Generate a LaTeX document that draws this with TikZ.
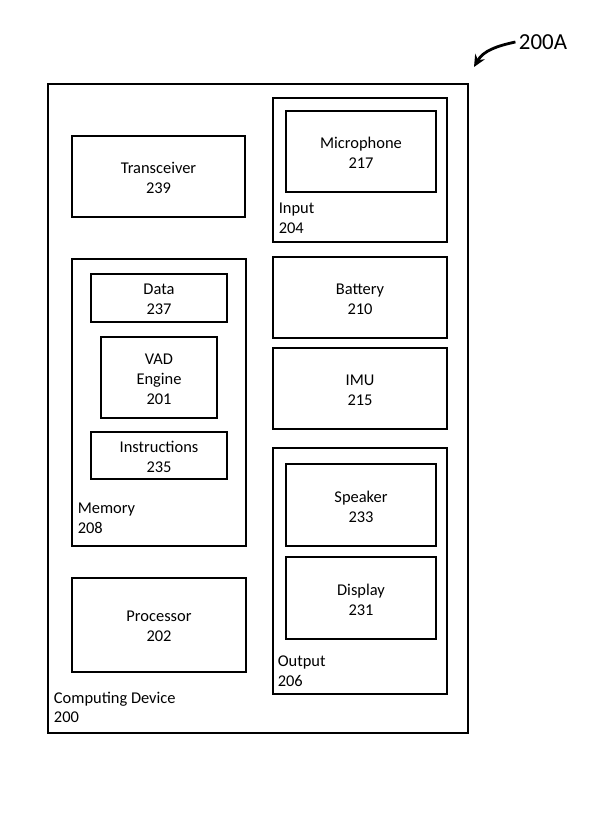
\documentclass[tikz,border=0pt]{standalone}
\usepackage{fontspec}
\setmainfont{Carlito}
\usepackage{tikz}
\usetikzlibrary{arrows.meta,positioning,fit}

\begin{document}
\begin{tikzpicture}[
    x=1bp, y=-1bp,
    every node/.style={font=\fontsize{16.5}{20}\selectfont},
    unit/.style={
      rectangle, draw, line width=2.8bp, inner sep=0pt
    },
    shell/.style={unit, line width=2.5bp},
    body/.style={inner sep=0pt, align=center, yshift=-1.5bp},
    tag/.style={inner sep=0pt, align=left, anchor=south west},
    arr/.style={-{Stealth[length=12bp, width=11bp]}, line width=2.8bp}
  ]
    \useasboundingbox (0,0) rectangle (589,832);

    % ── Outer device ──
    \node[shell, fit={(48,84) (468,733)}] (device) {};
    \node[tag, above right=11bp and 7bp of device.south west] (devicetag) {Computing Device\\200};

    % ── Left column ──
    \node[unit, fit={(72,136) (245,217)}, label={[body]center:{Transceiver\\239}}] (transceiver) {};
    \node[unit, fit={(72,259) (246,546)}] (memory) {};
    \node[tag, above right=14bp and 7bp of memory.south west] (memorytag) {Memory\\208};
    \node[unit, fit={(91,274) (227,322)}, label={[body]center:{Data\\237}}] (data) {};
    \node[unit, fit={(101,337) (217,418)}, label={[body]center:{VAD\\Engine\\201}}] (vad) {};
    \node[unit, fit={(91,432) (227,479)}, label={[body]center:{Instructions\\235}}] (instr) {};
    \node[unit, fit={(72,578) (246,672)}, label={[body]center:{Processor\\202}}] (processor) {};

    % ── Right column ──
    \node[unit, fit={(273,98) (447,242)}] (input) {};
    \node[tag, above right=10bp and 7bp of input.south west] (inputtag) {Input\\204};
    \node[unit, fit={(286,111) (436,192)}, label={[body]center:{Microphone\\217}}] (mic) {};
    \node[unit, fit={(273,257) (447,338)}, label={[body]center:{Battery\\210}}] (battery) {};
    \node[unit, fit={(273,348) (447,429)}, label={[body]center:{IMU\\215}}] (imu) {};
    \node[unit, fit={(273,448) (447,694)}] (output) {};
    \node[tag, above right=9bp and 6bp of output.south west] (outputtag) {Output\\206};
    \node[unit, fit={(286,464) (436,546)}, label={[body]center:{Speaker\\233}}] (speaker) {};
    \node[unit, fit={(286,557) (436,639)}, label={[body]center:{Display\\231}}] (display) {};

    % ── Reference label ──
    \node[font=\fontsize{23}{27}\selectfont] (figref) at (543,42) {200A};
    \coordinate (figtip) at (474,67);
    \draw[arr] (figref.west) to[out=192, in=60] (figtip);

  \end{tikzpicture}
\end{document}
